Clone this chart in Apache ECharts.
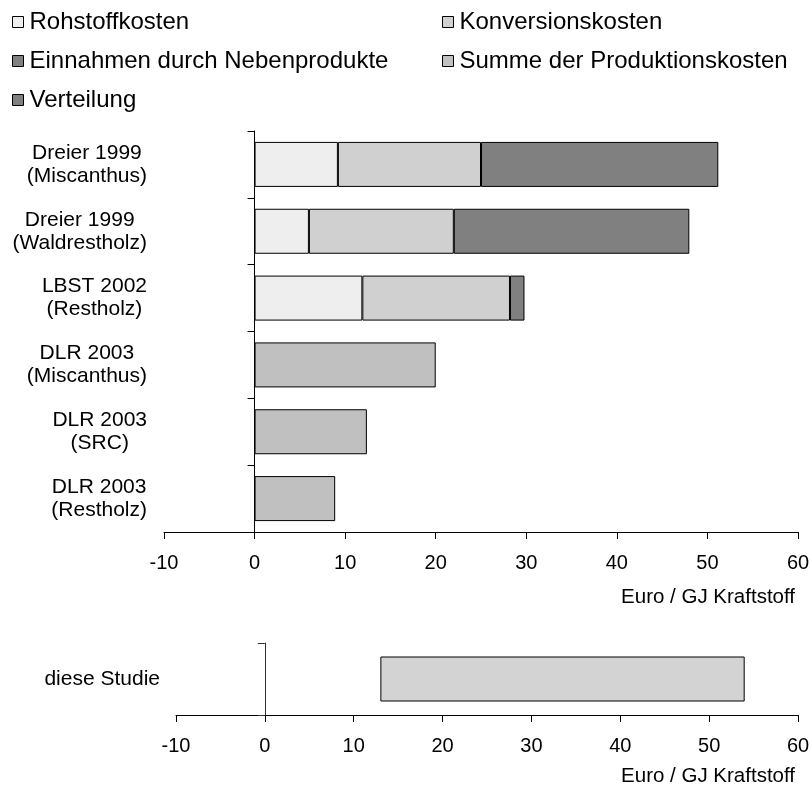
<!DOCTYPE html>
<html><head><meta charset="utf-8">
<script src="https://cdn.jsdelivr.net/npm/echarts@6/dist/echarts.min.js"></script>
<style>html,body{margin:0;padding:0;background:#fff}#c{width:812px;height:785px}</style>
</head><body><div id="c"></div>
<script>
// ---- data ----
const categories = ['Dreier 1999\n(Miscanthus)', 'Dreier 1999\n(Waldrestholz)', 'LBST 2002\n(Restholz)', 'DLR 2003\n(Miscanthus)', 'DLR 2003\n(SRC)', 'DLR 2003\n(Restholz)'];
const rohstoffkosten = [9.2, 6.0, 11.9, null, null, null];
const konversionskosten = [15.8, 16.0, 16.3, null, null, null];
const einnahmenNebenprodukte = [26.2, 26.0, null, null, null, null];
const summeProduktionskosten = [null, null, null, 20.0, 12.4, 8.9];
const verteilung = [null, null, 1.6, null, null, null];
const studyCategory = ['diese Studie'];
const studyLow = [13];
const studyHigh = [54];
const axisMin = -10, axisMax = 60, axisStep = 10;
const axisTitle = 'Euro / GJ Kraftstoff';
const legendNames = ['Rohstoffkosten', 'Konversionskosten', 'Einnahmen durch Nebenprodukte', 'Summe der Produktionskosten', 'Verteilung'];

// ---- styling ----
const FONT = "'Liberation Sans', Arial, sans-serif";
const colors = {
  'Rohstoffkosten': '#EEEEEE',
  'Konversionskosten': '#D0D0D0',
  'Einnahmen durch Nebenprodukte': '#808080',
  'Summe der Produktionskosten': '#C0C0C0',
  'Verteilung': '#808080'
};
const topValues = {
  'Rohstoffkosten': rohstoffkosten,
  'Konversionskosten': konversionskosten,
  'Einnahmen durch Nebenprodukte': einnahmenNebenprodukte,
  'Summe der Produktionskosten': summeProduktionskosten,
  'Verteilung': verteilung
};

const legendPos = [
  {name: legendNames[0], left: 12, top: 10},
  {name: legendNames[1], left: 442, top: 10},
  {name: legendNames[2], left: 12, top: 49},
  {name: legendNames[3], left: 442, top: 49},
  {name: legendNames[4], left: 12, top: 88}
];

const chart = echarts.init(document.getElementById('c'), null, {renderer: 'canvas'});

function valueAxis(gridIndex, labelMargin, namePad) {
  return {
    type: 'value', gridIndex: gridIndex, min: axisMin, max: axisMax, interval: axisStep,
    axisLine: {show: true, onZero: false, lineStyle: {color: '#000', width: 1}},
    axisTick: {show: true, length: 7, lineStyle: {color: '#000', width: 1}},
    splitLine: {show: false},
    axisLabel: {color: '#000', fontSize: 20, fontFamily: FONT, margin: labelMargin},
    name: axisTitle, nameLocation: 'end', nameGap: -3,
    nameTextStyle: {color: '#000', fontSize: 20.5, fontFamily: FONT, align: 'right', verticalAlign: 'top', padding: [namePad, 0, 0, 0]}
  };
}

const option = {
  animation: false,
  backgroundColor: '#fff',
  textStyle: {fontFamily: FONT},
  legend: legendPos.map(p => ({
    data: [p.name], left: p.left, top: p.top, padding: 0,
    orient: 'horizontal', icon: 'rect', itemWidth: 11, itemHeight: 11,
    itemStyle: {borderColor: '#000', borderWidth: 1},
    textStyle: {color: '#000', fontSize: 24, fontFamily: FONT, padding: [0, 0, 0, 1]},
    selectedMode: false
  })),
  grid: [
    {left: 164, right: 14, top: 131, height: 401, containLabel: false, outerBoundsMode: 'none'},
    {left: 176, right: 14, top: 643, height: 72, containLabel: false, outerBoundsMode: 'none'}
  ],
  xAxis: [valueAxis(0, 21, 55), valueAxis(1, 21, 51)],
  yAxis: [
    {
      type: 'category', gridIndex: 0, data: categories, inverse: true,
      axisLine: {show: true, onZero: true, lineStyle: {color: '#000', width: 1}},
      axisTick: {show: true, length: 7, lineStyle: {color: '#000', width: 1}},
      axisLabel: {
        margin: 17, align: 'right', color: '#000', fontSize: 21, fontFamily: FONT,
        formatter: v => v.split('\n').map(s => '{c|' + s + '}').join('\n'),
        rich: {c: {align: 'center', fontSize: 21, lineHeight: 23, color: '#000', fontFamily: FONT}}
      }
    },
    {
      type: 'category', gridIndex: 1, data: studyCategory, inverse: true,
      axisLine: {show: true, onZero: true, lineStyle: {color: '#333', width: 1}},
      axisTick: {show: true, length: 7, lineStyle: {color: '#333', width: 1}},
      axisLabel: {margin: 16, align: 'right', color: '#000', fontSize: 21, fontFamily: FONT}
    }
  ],
  series: legendNames.map(n => ({
    name: n, type: 'bar', stack: 'top', xAxisIndex: 0, yAxisIndex: 0,
    data: topValues[n], barWidth: 45,
    itemStyle: {color: colors[n], borderColor: '#000', borderWidth: 1},
    emphasis: {disabled: true}
  })).concat([
    {
      name: 'base', type: 'bar', stack: 'study', xAxisIndex: 1, yAxisIndex: 1,
      data: studyLow, barWidth: 45, itemStyle: {color: 'transparent', borderWidth: 0},
      emphasis: {disabled: true}, silent: true
    },
    {
      name: 'diese Studie', type: 'bar', stack: 'study', xAxisIndex: 1, yAxisIndex: 1,
      data: studyHigh.map((h, i) => h - studyLow[i]), barWidth: 45,
      itemStyle: {color: '#D3D3D3', borderColor: '#000', borderWidth: 1},
      emphasis: {disabled: true}
    }
  ])
};
chart.setOption(option);
</script>
</body></html>
